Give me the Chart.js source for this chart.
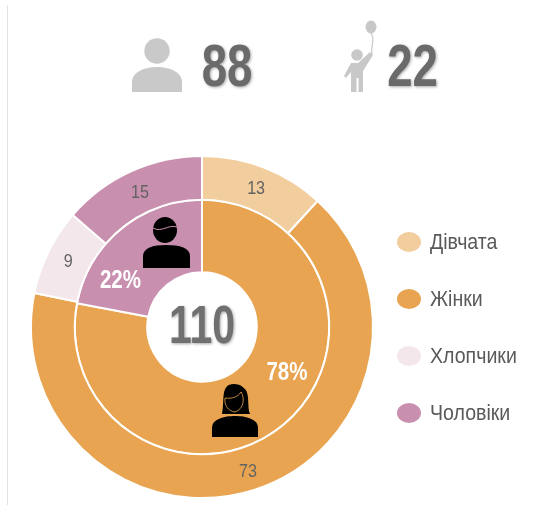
<!DOCTYPE html>
<html><head><meta charset="utf-8">
<style>html,body{margin:0;padding:0;background:#fff;width:548px;height:516px;overflow:hidden}
#w{position:relative;width:548px;height:516px}canvas{position:absolute;left:0;top:0}</style>
<script src="https://cdn.jsdelivr.net/npm/chart.js@4"></script></head><body>
<div id="w"><canvas id="c" width="548" height="516"></canvas></div>
<script>
const categories = ['Дівчата','Жінки','Хлопчики','Чоловіки'];
const outerValues = [13,73,9,15];
const outerColors = ['#f2cd9d','#e8a450','#f3e7eb','#c98fae'];
const innerCategories = ['Жінки','Чоловіки'];
const innerValues = [78,22];
const innerColors = ['#e8a450','#c98fae'];
const innerLabels = ['78%','22%'];
const centerTotal = '110';
const adultsCount = '88';
const childrenCount = '22';
const FONT = '"Liberation Sans",Arial,sans-serif';

function person(ctx,x,y,s,color){
  const k=s/50; ctx.save(); ctx.translate(x,y); ctx.scale(k,k); ctx.fillStyle=color;
  ctx.beginPath(); ctx.arc(0,-41,12.7,0,Math.PI*2); ctx.fill();
  ctx.beginPath(); ctx.moveTo(-25,0); ctx.lineTo(-25,-10); ctx.bezierCurveTo(-25,-20,-12,-25,0,-25); ctx.bezierCurveTo(12,-25,25,-20,25,-10); ctx.lineTo(25,0); ctx.closePath(); ctx.fill();
  ctx.restore();
}
function child(ctx){
  ctx.save(); const c='#c8c8c8'; ctx.fillStyle=c; ctx.strokeStyle=c; ctx.lineCap='round';
  ctx.beginPath(); ctx.ellipse(371,27,5.5,6.5,0,0,Math.PI*2); ctx.fill();
  ctx.lineWidth=1.2; ctx.beginPath(); ctx.moveTo(371,33); ctx.bezierCurveTo(376,40,370,46,372,54); ctx.stroke();
  ctx.beginPath(); ctx.arc(357,55,5.8,0,Math.PI*2); ctx.fill();
  ctx.beginPath(); ctx.moveTo(351,63); ctx.lineTo(358,63); ctx.lineTo(370,52); ctx.lineTo(373,55); ctx.lineTo(363,71); ctx.lineTo(363,92); ctx.lineTo(358.5,92); ctx.lineTo(358.5,78); ctx.lineTo(356.5,78); ctx.lineTo(356.5,92); ctx.lineTo(351,92); ctx.lineTo(351,72); ctx.lineTo(346,78); ctx.lineTo(344,76); ctx.closePath(); ctx.fill();
  ctx.restore();
}
function man(ctx){
  ctx.save(); ctx.fillStyle='#000';
  ctx.beginPath(); ctx.ellipse(165,230,12,13,0,0,Math.PI*2); ctx.fill();
  ctx.beginPath(); ctx.moveTo(143,268); ctx.lineTo(143,256); ctx.bezierCurveTo(143,248,153,245,166,245); ctx.bezierCurveTo(180,245,190,248,190,256); ctx.lineTo(190,268); ctx.closePath(); ctx.fill();
  ctx.strokeStyle='#c98fae'; ctx.lineWidth=1; ctx.beginPath(); ctx.moveTo(153,228); ctx.bezierCurveTo(162,233,168,224,177,227); ctx.stroke();
  ctx.restore();
}
function woman(ctx){
  ctx.save(); ctx.fillStyle='#000';
  ctx.beginPath(); ctx.moveTo(222,414); ctx.bezierCurveTo(225,400,220,384,234,384); ctx.bezierCurveTo(240,384,243,387,245,389); ctx.bezierCurveTo(250,394,247,408,250,414); ctx.closePath(); ctx.fill();
  ctx.beginPath(); ctx.moveTo(212,437); ctx.lineTo(212,428); ctx.bezierCurveTo(212,419,224,416,235,416); ctx.bezierCurveTo(246,416,258,419,258,428); ctx.lineTo(258,437); ctx.closePath(); ctx.fill();
  ctx.strokeStyle='#e8a450'; ctx.lineWidth=.8; ctx.beginPath(); ctx.moveTo(225,398); ctx.bezierCurveTo(232,399,238,397,241,392); ctx.bezierCurveTo(245,398,244,409,235,412); ctx.bezierCurveTo(228,411,224,405,225,398); ctx.stroke();
  ctx.restore();
}
function txt(ctx,s,x,y,font,color,sx,shadow){
  ctx.save(); ctx.translate(x,y); ctx.scale(sx,1); ctx.font=font; ctx.fillStyle=color; ctx.textAlign='center'; ctx.textBaseline='middle';
  if(shadow){ctx.shadowColor='rgba(0,0,0,.35)';ctx.shadowBlur=3;ctx.shadowOffsetX=1;ctx.shadowOffsetY=1;}
  ctx.fillText(s,0,0); ctx.restore();
}
const decor = {
  id:'decor',
  afterDraw(chart){
    const ctx=chart.ctx, m0=chart.getDatasetMeta(0), cx=m0.data[0].x, cy=m0.data[0].y;
    ctx.save(); ctx.strokeStyle='#e2e2e2'; ctx.lineWidth=1; ctx.beginPath(); ctx.moveTo(7.5,5); ctx.lineTo(7.5,505); ctx.stroke(); ctx.restore();
    const dy=[0,2,0,0];
    m0.data.forEach((a,i)=>{const p=a.tooltipPosition(); txt(ctx,String(outerValues[i]),p.x,p.y+1+dy[i],'19px '+FONT,'#636363',.85);});
    txt(ctx,innerLabels[0],287,373,'bold 26px '+FONT,'#fff',.79);
    txt(ctx,innerLabels[1],120.5,281,'bold 26px '+FONT,'#fff',.79);
    txt(ctx,centerTotal,cx,cy+1,'bold 54px '+FONT,'#707070',.76,true);
    txt(ctx,adultsCount,227,69,'bold 60px '+FONT,'#6a6a6a',.76,true);
    txt(ctx,childrenCount,412.5,69,'bold 60px '+FONT,'#6a6a6a',.76,true);
    person(ctx,157,92,50,'#c9c9c9'); child(ctx); man(ctx); woman(ctx);
    const ys=[242,299,356,413];
    categories.forEach((name,i)=>{
      ctx.save(); ctx.fillStyle=outerColors[i]; ctx.beginPath(); ctx.ellipse(409,ys[i],12,10,0,0,Math.PI*2); ctx.fill();
      ctx.translate(430,ys[i]+1); ctx.scale(.89,1);
      ctx.font='22px '+FONT; ctx.fillStyle='#595959'; ctx.textBaseline='middle'; ctx.textAlign='left';
      ctx.fillText(name,0,0); ctx.restore();
    });
  }
};
new Chart(document.getElementById('c'),{
  type:'doughnut',
  data:{labels:categories,datasets:[
    {label:'Діти й дорослі',data:outerValues,backgroundColor:outerColors,borderColor:'#fff',borderWidth:2,weight:44},
    {label:'Стать',data:innerValues,backgroundColor:innerColors,borderColor:'#fff',borderWidth:2,weight:73}
  ]},
  options:{responsive:false,animation:false,cutout:'32%',
    layout:{padding:{left:30,right:174,top:155,bottom:17}},
    plugins:{legend:{display:false},tooltip:{enabled:false}}},
  plugins:[decor]
});
</script></body></html>
